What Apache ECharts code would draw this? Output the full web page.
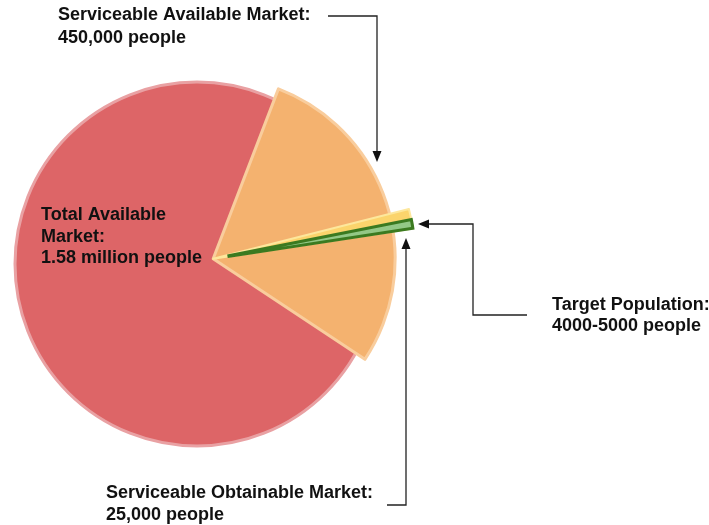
<!DOCTYPE html>
<html>
<head>
<meta charset="utf-8">
<title>Market sizing</title>
<script src="https://cdn.jsdelivr.net/npm/echarts@6/dist/echarts.min.js"></script>
<style>
  html, body { margin: 0; padding: 0; background: #ffffff; }
  #chart { width: 709px; height: 525px; }
</style>
</head>
<body>
<div id="chart"></div>
<script>
// Market segments, in people
const segmentNames = ['Total Available Market', 'Serviceable Available Market', 'Serviceable Obtainable Market', 'Target Population'];
const totalMarket = 1580000;
const serviceableMarket = 450000;
const obtainableMarket = 25000;
const targetRange = [4000, 5000];
const targetMarket = (targetRange[0] + targetRange[1]) / 2;

// Label text for each segment
const tamLabel = ['Total Available', 'Market:', (totalMarket / 1e6).toFixed(2) + ' million people'];
const samLabel = ['Serviceable Available Market:', serviceableMarket.toLocaleString('en-US') + ' people'];
const somLabel = ['Serviceable Obtainable Market:', obtainableMarket.toLocaleString('en-US') + ' people'];
const targetLabel = ['Target Population:', targetRange[0] + '-' + targetRange[1] + ' people'];

// Layout
const pieCenter = [197, 264];
const pieRadius = 182;
const explode = 17;          // how far the serviceable slice is pulled out
const samStartAngle = 69;    // degrees, counter-clockwise from 3 o'clock
const somStartAngle = 14.3;
const targetStartAngle = 11.2;
const targetMinAngle = 2.5;  // keep the tiny target slice visible
const innerRadius = 202;

// Centre of the pulled-out slice, moved along its bisector
const samSpan = 360 * serviceableMarket / totalMarket;
const samMid = (samStartAngle - samSpan / 2) * Math.PI / 180;
const samCenter = [pieCenter[0] + explode * Math.cos(samMid), pieCenter[1] - explode * Math.sin(samMid)];

const hidden = { color: 'transparent', borderWidth: 0 };

function pie(name, center, radius, startAngle, data, extra) {
  return Object.assign({
    type: 'pie', name: name, center: center, radius: radius, startAngle: startAngle,
    clockwise: true, silent: true, animation: false,
    label: { show: false }, labelLine: { show: false },
    emphasis: { disabled: true },
    data: data
  }, extra || {});
}

function textBlock(lines, x, y, lh) {
  return {
    type: 'text', x: x, y: y, z: 100, silent: true,
    style: {
      text: lines.join('\n'), fontFamily: '"Liberation Sans", Arial, sans-serif',
      fontSize: 18, fontWeight: 'bold', fill: '#111111', lineHeight: lh, verticalAlign: 'top'
    }
  };
}
function connector(points) {
  return { type: 'polyline', z: 100, silent: true, shape: { points: points }, style: { stroke: '#222222', lineWidth: 1.3, fill: null } };
}
function arrowHead(tip, dir) {
  const [x, y] = tip, L = 11, W = 4.5;
  let pts;
  if (dir === 'down') pts = [[x, y], [x - W, y - L], [x + W, y - L]];
  else if (dir === 'up') pts = [[x, y], [x - W, y + L], [x + W, y + L]];
  else pts = [[x, y], [x + L, y - W], [x + L, y + W]];
  return { type: 'polygon', z: 100, silent: true, shape: { points: pts }, style: { fill: '#111111' } };
}

const chart = echarts.init(document.getElementById('chart'), null, { renderer: 'canvas' });
chart.setOption({
  backgroundColor: '#ffffff',
  series: [
    pie(segmentNames[0], pieCenter, pieRadius, 90, [
      { name: segmentNames[0], value: totalMarket, itemStyle: { color: '#dd6567', borderColor: '#e9a1a3', borderWidth: 3 } }
    ]),
    pie(segmentNames[1], samCenter, pieRadius, samStartAngle, [
      { name: segmentNames[1], value: serviceableMarket, itemStyle: { color: '#f4b26f', borderColor: '#f9cd9d', borderWidth: 3 } },
      { name: 'rest', value: totalMarket - serviceableMarket, itemStyle: hidden }
    ]),
    pie(segmentNames[2], samCenter, [0, innerRadius], somStartAngle, [
      { name: segmentNames[2], value: obtainableMarket, itemStyle: { color: '#fbd46c', borderColor: '#fde79c', borderWidth: 2 } },
      { name: 'rest', value: totalMarket - obtainableMarket, itemStyle: hidden }
    ]),
    pie(segmentNames[3], samCenter, [16, innerRadius], targetStartAngle, [
      { name: segmentNames[3], value: targetMarket, itemStyle: { color: '#93c886', borderColor: '#3b7a20', borderWidth: 3, borderJoin: 'miter' } },
      { name: 'rest', value: totalMarket - targetMarket, itemStyle: hidden }
    ], { minAngle: targetMinAngle })
  ],
  graphic: [
    textBlock(samLabel, 58, 3, 23.5),
    textBlock(tamLabel, 41, 204, 21.7),
    textBlock(targetLabel, 552, 294, 21.5),
    textBlock(somLabel, 106, 482, 22),
    connector([[328, 16], [377, 16], [377, 152]]),
    arrowHead([377, 162], 'down'),
    connector([[527, 315], [473, 315], [473, 224], [428, 224]]),
    arrowHead([418, 224], 'left'),
    connector([[387, 505], [406, 505], [406, 247]]),
    arrowHead([406, 238], 'up')
  ]
});
</script>
</body>
</html>
